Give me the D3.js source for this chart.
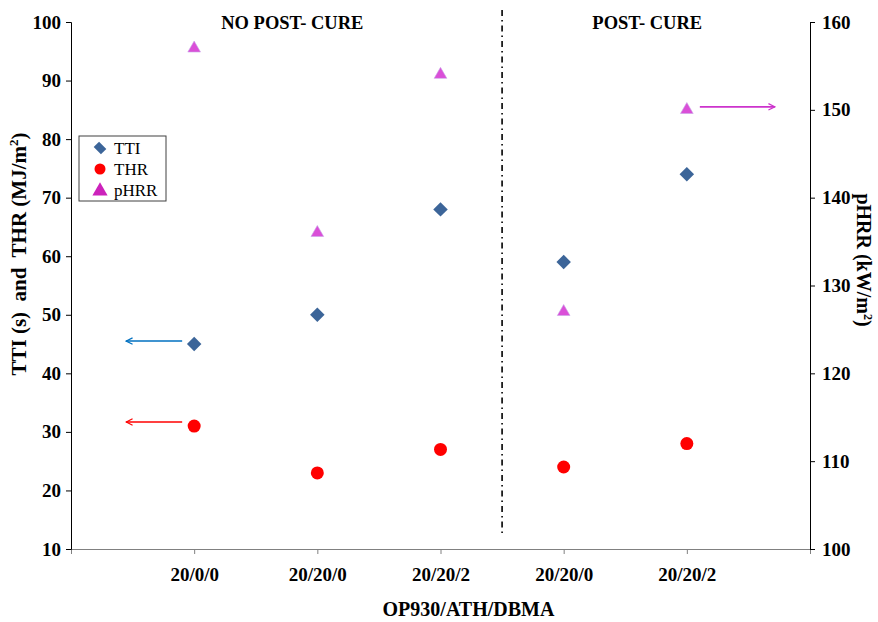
<!DOCTYPE html>
<html lang="en">
  <head>
    <meta charset="utf-8">
    <title>TTI, THR and pHRR</title>
    <script type="text/javascript" src="https://d3js.org/d3.v7.min.js" charset="utf-8"></script>
    <style type="text/css">
      body { margin: 0; background: #fff; }
      text { font-family: "Liberation Serif", "Times New Roman", serif; }
      .axis--x path, .axis--x line { stroke: #808080; }
      .axis--y path, .axis--y line, .axis--y2 path, .axis--y2 line { stroke: #000; }
    </style>
  </head>
  <body>
<script type="text/javascript">

// samples along the x axis
var categories = ["20/0/0", "20/20/0", "20/20/2", "20/20/0 ", "20/20/2 "];
var tickLabels = ["20/0/0", "20/20/0", "20/20/2", "20/20/0", "20/20/2"];

// left axis values
var tti = [45, 50, 68, 59, 74];
var thr = [31, 23, 27, 24, 28];
// right axis values
var phrr = [157, 136, 154, 127, 150];

var yTicks = [10, 20, 30, 40, 50, 60, 70, 80, 90, 100];
var y2Ticks = [100, 110, 120, 130, 140, 150, 160];

var width = 878, height = 622;
var margin = {top: 22, right: 68, bottom: 73, left: 71};
var serif = "'Liberation Serif', 'Times New Roman', serif";

var svg = d3.select("body").append("svg")
    .attr("width", width)
    .attr("height", height);

var x = d3.scalePoint()
    .domain(categories)
    .range([margin.left, width - margin.right])
    .padding(1);

var y = d3.scaleLinear()
    .domain([10, 100])
    .range([height - margin.bottom, margin.top]);

var y2 = d3.scaleLinear()
    .domain([100, 160])
    .range([height - margin.bottom, margin.top]);

function axisFont(g) {
  g.attr("font-family", serif)
   .attr("font-size", 19)
   .attr("font-weight", "bold");
  g.selectAll("text").attr("fill", "#000");
}

// axes
svg.append("g")
    .attr("class", "axis axis--x")
    .attr("transform", "translate(0," + (height - margin.bottom) + ")")
    .call(d3.axisBottom(x).tickSize(5).tickSizeOuter(5).tickPadding(14)
      .tickFormat((d, i) => tickLabels[i]))
    .call(axisFont);

svg.append("g")
    .attr("class", "axis axis--y")
    .attr("transform", "translate(" + margin.left + ",0)")
    .call(d3.axisLeft(y).tickValues(yTicks).tickSize(5).tickSizeOuter(5).tickPadding(5))
    .call(axisFont);

svg.append("g")
    .attr("class", "axis axis--y2")
    .attr("transform", "translate(" + (width - margin.right) + ",0)")
    .call(d3.axisRight(y2).tickValues(y2Ticks).tickSize(5).tickSizeOuter(5).tickPadding(7))
    .call(axisFont);

// axis titles
svg.append("text")
    .attr("transform", "translate(26,254) rotate(-90)")
    .attr("text-anchor", "middle")
    .attr("font-weight", "bold")
    .attr("font-size", "21px")
    .html("TTI (s)\u00a0 and\u00a0 THR (MJ/m<tspan dy='-8' font-size='13px'>2</tspan><tspan dy='8'>)</tspan>");

svg.append("text")
    .attr("transform", "translate(857,260) rotate(90)")
    .attr("text-anchor", "middle")
    .attr("font-weight", "bold")
    .attr("font-size", "20px")
    .html("pHRR (kW/m<tspan dy='-7' font-size='12px'>2</tspan><tspan dy='7'>)</tspan>");

svg.append("text")
    .attr("x", (margin.left + width - margin.right) / 2 + 28)
    .attr("y", 616)
    .attr("text-anchor", "middle")
    .attr("font-weight", "bold")
    .attr("font-size", "20px")
    .text("OP930/ATH/DBMA");

// section divider and headers
var xDiv = (x(categories[2]) + x(categories[3])) / 2;
svg.append("line")
    .attr("x1", xDiv).attr("x2", xDiv)
    .attr("y1", 10).attr("y2", 537)
    .attr("stroke", "#000")
    .attr("stroke-width", 1.6)
    .attr("stroke-dasharray", "6,4,1.5,4");

svg.append("text")
    .attr("x", x(categories[1]) - 25)
    .attr("y", 29)
    .attr("text-anchor", "middle")
    .attr("font-weight", "bold")
    .attr("font-size", "18.5px")
    .text("NO POST- CURE");

svg.append("text")
    .attr("x", (x(categories[3]) + x(categories[4])) / 2 + 22)
    .attr("y", 29)
    .attr("text-anchor", "middle")
    .attr("font-weight", "bold")
    .attr("font-size", "18.5px")
    .text("POST- CURE");

// markers
var diamond = d3.symbol().type(d3.symbolSquare).size(105);
var triangle = d3.symbol().type(d3.symbolTriangle).size(70);

svg.append("g").selectAll("path").data(tti).join("path")
    .attr("transform", (d, i) => "translate(" + x(categories[i]) + "," + y(d) + ") rotate(45)")
    .attr("d", diamond)
    .attr("fill", "#3C6599");

svg.append("g").selectAll("circle").data(thr).join("circle")
    .attr("cx", (d, i) => x(categories[i]))
    .attr("cy", d => y(d))
    .attr("r", 6.5)
    .attr("fill", "#FF0000");

svg.append("g").selectAll("path").data(phrr).join("path")
    .attr("transform", (d, i) => "translate(" + x(categories[i]) + "," + y2(d) + ")")
    .attr("d", triangle)
    .attr("fill", "#DA4FD8")
    .attr("stroke", "#C9A5E8")
    .attr("stroke-width", 0.6);

// arrows pointing to the axis each series belongs to
var defs = svg.append("defs");
function arrowHead(id, color) {
  defs.append("marker")
      .attr("id", id)
      .attr("viewBox", "0 0 10 10")
      .attr("refX", 9).attr("refY", 5)
      .attr("markerWidth", 8).attr("markerHeight", 8)
      .attr("markerUnits", "userSpaceOnUse")
      .attr("orient", "auto")
    .append("path")
      .attr("d", "M1,1 L9,5 L1,9")
      .attr("fill", "none")
      .attr("stroke", color)
      .attr("stroke-width", 1.5);
}
arrowHead("arrBlue", "#0070C0");
arrowHead("arrRed", "#FF0000");
arrowHead("arrPink", "#CC33CC");

function arrow(x1, x2, yy, color, id) {
  svg.append("line")
      .attr("x1", x1).attr("x2", x2)
      .attr("y1", yy).attr("y2", yy)
      .attr("stroke", color)
      .attr("stroke-width", 1.6)
      .attr("marker-end", "url(#" + id + ")");
}
arrow(x(categories[0]) - 12, x(categories[0]) - 68, y(tti[0]) - 3, "#0070C0", "arrBlue");
arrow(x(categories[0]) - 12, x(categories[0]) - 68, y(thr[0]) - 4, "#FF0000", "arrRed");
arrow(x(categories[4]) + 13, x(categories[4]) + 88, y2(phrr[4]) - 3, "#CC33CC", "arrPink");

// legend
var legend = svg.append("g").attr("transform", "translate(79,136)");
legend.append("rect")
    .attr("width", 87).attr("height", 65)
    .attr("fill", "#fff")
    .attr("stroke", "#404040")
    .attr("stroke-width", 1);

var legendItems = [
  {name: "TTI", shape: "diamond", color: "#3C6599"},
  {name: "THR", shape: "circle", color: "#FF0000"},
  {name: "pHRR", shape: "triangle", color: "#CC22BB"}
];
legendItems.forEach(function(d, i) {
  var cy = 12 + i * 21;
  if (d.shape === "circle") {
    legend.append("circle").attr("cx", 21).attr("cy", cy).attr("r", 5.5).attr("fill", d.color);
  } else if (d.shape === "diamond") {
    legend.append("path")
        .attr("transform", "translate(21," + cy + ") rotate(45) scale(1.15,0.85)")
        .attr("d", d3.symbol().type(d3.symbolSquare).size(80))
        .attr("fill", d.color);
  } else {
    legend.append("path")
        .attr("transform", "translate(21," + (cy + 1) + ")")
        .attr("d", d3.symbol().type(d3.symbolTriangle).size(100))
        .attr("fill", d.color);
  }
  legend.append("text")
      .attr("x", 35).attr("y", cy + 6)
      .attr("font-size", "17px")
      .text(d.name);
});

</script>
  </body>
</html>
